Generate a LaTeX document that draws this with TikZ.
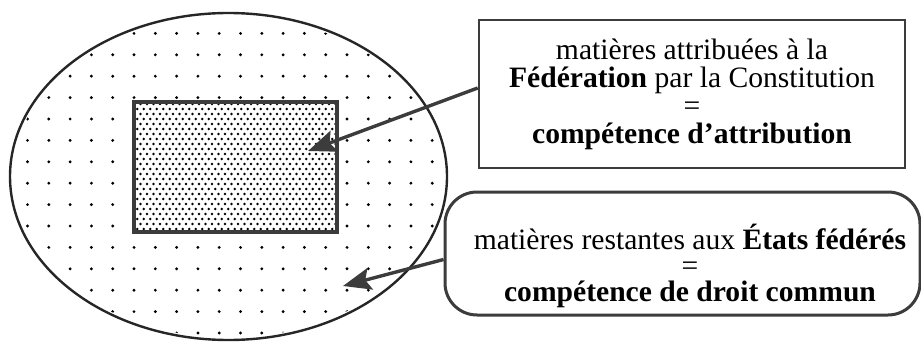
\documentclass[tikz,border=0pt]{standalone}
\usepackage{fontspec}
\setmainfont{Liberation Serif}
\usetikzlibrary{arrows.meta}
\definecolor{inkgray}{RGB}{60,60,60}
\lineskiplimit=-20pt

\begin{document}
\begin{tikzpicture}[x=0.5pt,y=-0.5pt,>={Stealth[length=14pt,width=11pt,inset=2.5pt]},
  box/.style={draw=inkgray,line width=1.3pt,align=center,inner sep=0pt},
  arr/.style={->,inkgray,line width=1.7pt}]
\useasboundingbox (0,0) rectangle (921,342);
% sparse dots in the ellipse
\begin{scope}
\clip (228.5,176.5) ellipse [x radius=108pt, y radius=80.5pt];
\foreach \i in {0,...,20} \foreach \j in {0,...,15}
  \fill (6.2+21.3*\i,12+21.4*\j) circle (0.8pt);
\end{scope}
\draw[line width=1.2pt,black!85] (228.5,176.5) ellipse [x radius=109.25pt, y radius=81.75pt];
% dense dots in the rectangle
\fill[white] (134,102) rectangle (337,232);
\begin{scope}
\clip (134,102) rectangle (337,232);
\foreach \j in {0,...,26} \foreach \i in {0,...,31}
  \fill ({134+6.5*\i+3.25*mod(\j,2)},{104+5*\j}) circle (0.68pt);
\end{scope}
\node[draw=inkgray,line width=1.6pt,minimum width=101.5pt,minimum height=65pt,inner sep=0pt] (fedarea) at (235.5,167) {};
\node[box,minimum width=213pt,minimum height=74pt,font=\fontsize{14.8pt}{14pt}\selectfont] (attrib) at (692,94)
  {matières attribuées à la\\\textbf{Fédération} par la Constitution\\=\\\textbf{compétence d’attribution}};
\node[box,rounded corners=16pt,line width=1.5pt,minimum width=237.5pt,minimum height=61.5pt] (commun) at (682.5,253.5) {};
\node[align=center,inner sep=0pt,font=\fontsize{14.8pt}{13pt}\selectfont] (communtxt) at (690,266)
  {matières restantes aux \textbf{États fédérés}\\=\\\textbf{compétence de droit commun}};
\coordinate (attribtip) at (308,151);
\coordinate (communtip) at (343,286);
\draw[arr] ([yshift=3pt]attrib.west) -- (attribtip);
\draw[arr] ([yshift=-3pt]commun.west) -- (communtip);
\end{tikzpicture}
\end{document}
